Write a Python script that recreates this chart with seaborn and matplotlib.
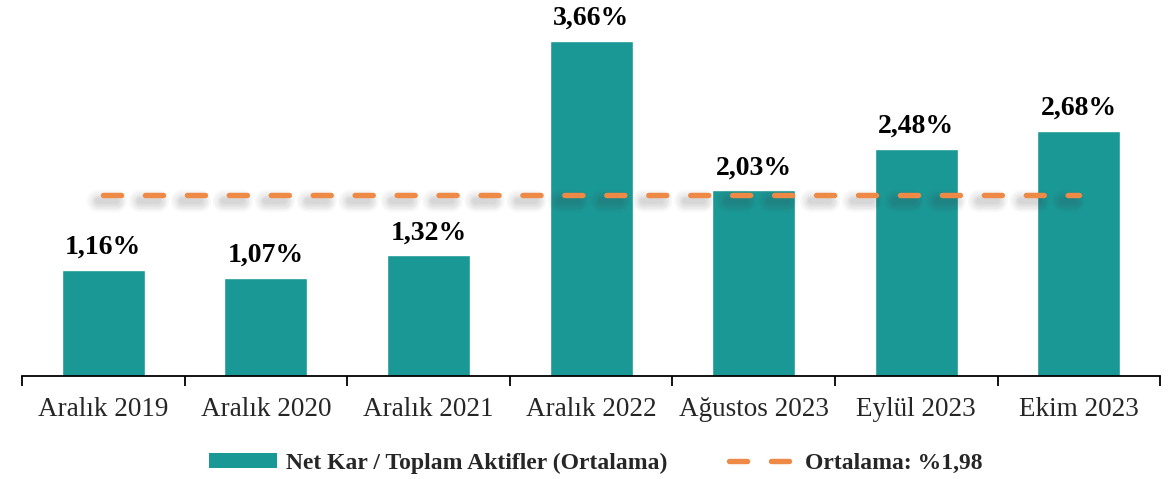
import matplotlib
matplotlib.use("Agg")
import matplotlib.pyplot as plt
import seaborn as sns
import pandas as pd
import numpy as np
from matplotlib.lines import Line2D
from matplotlib.patches import Patch

categories = ["Aralık 2019", "Aralık 2020", "Aralık 2021", "Aralık 2022",
              "Ağustos 2023", "Eylül 2023", "Ekim 2023"]
values = [1.16, 1.07, 1.32, 3.66, 2.03, 2.48, 2.68]
labels = ["1,16%", "1,07%", "1,32%", "3,66%", "2,03%", "2,48%", "2,68%"]
average = 1.98
series_name = "Net Kar / Toplam Aktifler (Ortalama)"
avg_name = "Ortalama: %1,98"

bar_color = "#1a9896"
line_color = "#ee8a45"

sns.set_theme(style="white")
plt.rcParams["font.family"] = ["Liberation Serif", "DejaVu Serif"]

df = pd.DataFrame({"cat": categories, "val": values})

fig = plt.figure(figsize=(11.73, 4.79), dpi=100)
ax = fig.add_axes([0.0188, 0.215, 0.9702, 0.764])

sns.barplot(data=df, x="cat", y="val", color=bar_color, width=0.51,
            saturation=1, ax=ax, zorder=2)

lw = 3.9
on_pt, off_pt = 13.0, 17.2
dash = (0, (on_pt / lw, off_pt / lw))
xs = np.array([0, len(categories) - 1], dtype=float)
# soft drop shadow of the average line
for w in [16, 13, 10.5, 8, 6, 4]:
    ax.plot(xs - 0.03, [average - 0.07] * 2, color="#3a3a3a", lw=w,
            alpha=0.035, ls=(0, (on_pt / w, off_pt / w)),
            dash_capstyle="round", zorder=3)
ax.plot(xs, [average] * 2, color=line_color, lw=lw, ls=dash,
        dash_capstyle="round", zorder=4)

for i, (v, lab) in enumerate(zip(values, labels)):
    ax.text(i, v + 0.11, lab, ha="center", va="bottom", fontsize=20,
            fontweight="bold", color="black", clip_on=False)

ax.set_ylim(0, 4.0)
ax.set_xlim(-0.5, len(categories) - 0.5)
ax.set_yticks([])
ax.set_xlabel("")
ax.set_ylabel("")

ax.set_xticks(np.arange(-0.5, len(categories), 1.0))
ax.set_xticklabels([])
ax.set_xticks(np.arange(len(categories)), minor=True)
ax.set_xticklabels(categories, minor=True, fontsize=19.5)
ax.tick_params(axis="x", which="major", length=7, width=1.3, color="black",
               direction="out", bottom=True)
ax.tick_params(axis="x", which="minor", length=0, pad=15, bottom=True)

for s in ["top", "right", "left"]:
    ax.spines[s].set_visible(False)
ax.spines["bottom"].set_color("black")
ax.spines["bottom"].set_linewidth(1.3)

handles = [Patch(facecolor=bar_color, edgecolor="none"),
           Line2D([0], [0], color=line_color, lw=lw, ls=dash,
                  dash_capstyle="round")]
leg = fig.legend(handles, [series_name, avg_name], loc="center",
                 bbox_to_anchor=(0.508, 0.033), ncol=2, frameon=False,
                 prop={"weight": "bold", "size": 17},
                 handlelength=2.9, handleheight=0.55, columnspacing=2.6,
                 handletextpad=0.35)

fig.savefig("out.png", dpi=100)
